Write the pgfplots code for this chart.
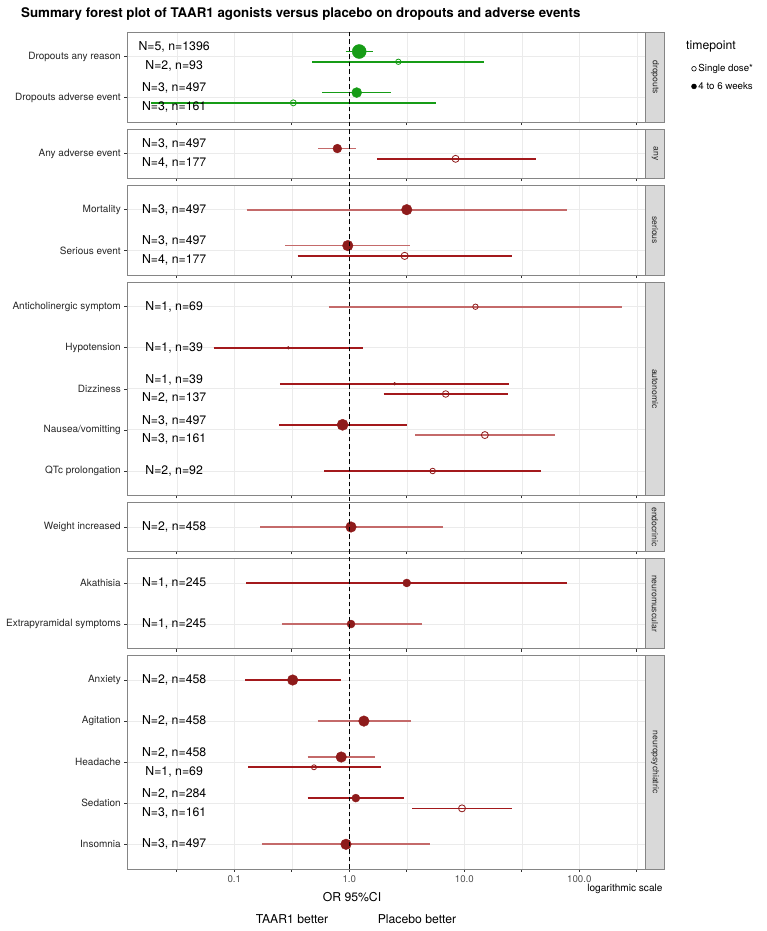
\documentclass[border=0pt]{standalone}
\usepackage{fontspec}
\setmainfont{TeX Gyre Heros}
\usepackage{pgfplots}
\usepackage{pgfplotstable}
\pgfplotsset{compat=1.18}

\definecolor{ptgreen}{HTML}{169C16}
\definecolor{ptred}{HTML}{8E1B1B}
\definecolor{cilight}{HTML}{C46A6A}
\definecolor{cidark}{HTML}{A3191C}
\definecolor{gridc}{HTML}{EBEBEB}
\definecolor{stripc}{HTML}{D9D9D9}
\definecolor{framec}{HTML}{858585}

% point estimates: y = row position, x = OR, r = point radius,
% f = 1 filled (4 to 6 weeks) / 0 open (single dose)
\pgfplotstableread{
y x r f
0.875 1.22 7.0 1
1.125 2.67 2.7 0
1.875 1.16 5.0 1
2.125 0.326 3.0 0
}\tabdrop
\pgfplotstableread{
y x r f
0.875 0.787 4.4 1
1.125 8.4 3.5 0
}\tabany
\pgfplotstableread{
y x r f
1 3.16 5.3 1
1.875 0.97 5.3 1
2.125 3.03 3.6 0
}\tabser
\pgfplotstableread{
y x r f
1 12.5 2.7 0
2 0.295 1.4 1
2.875 2.48 1.4 1
3.125 6.89 3.3 0
3.875 0.875 5.6 1
4.125 15.1 3.5 0
5 5.31 2.8 0
}\tabaut
\pgfplotstableread{
y x r f
1 1.035 5.3 1
}\tabend
\pgfplotstableread{
y x r f
1 3.16 4.0 1
2 1.035 4.0 1
}\tabneu
\pgfplotstableread{
y x r f
1 0.322 5.3 1
2 1.34 5.3 1
2.875 0.851 5.3 1
3.125 0.493 2.5 0
3.875 1.14 4.0 1
4.125 9.55 3.5 0
5 0.936 5.3 1
}\tabpsy

\pgfplotsset{
  every axis/.append style={
    scale only axis, width=518pt, xmin=0.01174, xmax=375,
    axis line style={framec, line width=0.7pt},
    xtick={0.1,1,10,100},
    minor xtick={0.0316,0.316,3.16,31.6,316},
    xmajorgrids, xminorgrids, ymajorgrids,
    major grid style={gridc, line width=0.9pt},
    minor grid style={gridc, line width=0.45pt},
    major tick length=3pt,
    tick style={black!80, line width=0.6pt},
    yticklabel style={font=\fontsize{10}{11}\selectfont, text=black!85},
  },
  ciL/.style={forget plot, no markers, cilight, line width=1.7pt},
  ciD/.style={forget plot, no markers, cidark, line width=1.7pt},
  ciG/.style={forget plot, no markers, ptgreen, line width=1.7pt},
  ptFill/.style={forget plot, scatter, only marks, mark=*, point meta=\thisrow{r},
    scatter/use mapped color={draw=#1, fill=#1},
    visualization depends on={\thisrow{r}\as\rr},
    scatter/@pre marker code/.append style={/tikz/mark size=\rr},
    restrict expr to domain={\thisrow{f}}{1:1}},
  ptOpen/.style={forget plot, scatter, only marks, mark=o, line width=0.8pt, point meta=\thisrow{r},
    scatter/use mapped color={draw=#1, fill=#1},
    visualization depends on={\thisrow{r}\as\rr},
    scatter/@pre marker code/.append style={/tikz/mark size=\rr},
    restrict expr to domain={\thisrow{f}}{0:0}},
  nLabel/.style={forget plot, only marks, mark=none, nodes near coords,
    point meta=explicit symbolic,
    every node near coord/.append style={anchor=center, font=\fontsize{12.3}{14}\selectfont, text=black}},
}

\newcommand\points[2]{%
  \addplot[ptFill=#2] table[x=x, y=y] {#1};
  \addplot[ptOpen=#2] table[x=x, y=y] {#1};
}

\newcommand\strip[2]{%
  \begin{scope}
    \draw[fill=stripc, draw=framec, line width=0.7pt] (#1.south east) rectangle ([xshift=19.4pt]#1.north east);
    \clip (#1.south east) rectangle ([xshift=19.4pt]#1.north east);
    \node[rotate=-90, font=\fontsize{8.6}{10}\selectfont, text=black!85] at ([xshift=9.7pt]#1.east) {#2};
  \end{scope}}

\begin{document}
\begin{tikzpicture}
\path[use as bounding box] (0pt,0pt) rectangle (766pt,-931pt);

\node[anchor=west, inner sep=0pt, font=\fontsize{13.3}{15}\selectfont\bfseries] at (21pt,-14pt)
  {Summary forest plot of TAAR1 agonists versus placebo on dropouts and adverse events};

% dropouts
\begin{semilogxaxis}[name=p1, at={(127.3pt,-32pt)}, anchor=north west, height=90.35pt,
  y dir=reverse, xtick pos=left, ytick pos=left, tick align=outside,
  xmajorticks=false, xminorticks=false, xticklabels={},
  ymin=0.4, ymax=2.6, ytick={1,2}, yticklabels={Dropouts any reason, Dropouts adverse event},
  legend style={draw=none, fill=none, at={(1.083,0.496)}, anchor=west,
    font=\fontsize{9.7}{11}\selectfont, row sep=5pt, cells={anchor=west},
    every odd column/.append style={column sep=7pt}}]
\addplot[ciG] coordinates {(0.93,0.875) (1.60,0.875)};
\addplot[ciG] coordinates {(0.477,1.125) (14.7,1.125)};
\addplot[ciG] coordinates {(0.58,1.875) (2.29,1.875)};
\addplot[ciG] coordinates {(0.0189,2.125) (5.71,2.125)};
\points{\tabdrop}{ptgreen}
\addplot[nLabel] coordinates {(0.03,0.773) [N=5, n=1396] (0.03,1.227) [N=2, n=93]
  (0.03,1.773) [N=3, n=497] (0.03,2.227) [N=3, n=161]};
\addlegendimage{only marks, mark=o, mark size=2.3pt, line width=0.6pt, black}
\addlegendentry{Single dose*}
\addlegendimage{only marks, mark=*, mark size=2.5pt, black}
\addlegendentry{4 to 6 weeks}
\end{semilogxaxis}
\strip{p1}{dropouts}

% any
\begin{semilogxaxis}[name=p2, at={(127.3pt,-129.05pt)}, anchor=north west, height=49.28pt,
  y dir=reverse, xtick pos=left, ytick pos=left, tick align=outside,
  xmajorticks=false, xminorticks=false, xticklabels={},
  ymin=0.4, ymax=1.6, ytick={1}, yticklabels={Any adverse event}]
\addplot[ciL] coordinates {(0.537,0.875) (1.14,0.875)};
\addplot[ciD] coordinates {(1.74,1.125) (41.8,1.125)};
\points{\tabany}{ptred}
\addplot[nLabel] coordinates {(0.03,0.773) [N=3, n=497] (0.03,1.227) [N=4, n=177]};
\end{semilogxaxis}
\strip{p2}{any}

% serious
\begin{semilogxaxis}[name=p3, at={(127.3pt,-185.03pt)}, anchor=north west, height=90.35pt,
  y dir=reverse, xtick pos=left, ytick pos=left, tick align=outside,
  xmajorticks=false, xminorticks=false, xticklabels={},
  ymin=0.4, ymax=2.6, ytick={1,2}, yticklabels={Mortality, Serious event}]
\addplot[ciL] coordinates {(0.128,1) (77.7,1)};
\addplot[ciL] coordinates {(0.278,1.875) (3.37,1.875)};
\addplot[ciD] coordinates {(0.356,2.125) (25.8,2.125)};
\points{\tabser}{ptred}
\addplot[nLabel] coordinates {(0.03,1) [N=3, n=497] (0.03,1.773) [N=3, n=497] (0.03,2.227) [N=4, n=177]};
\end{semilogxaxis}
\strip{p3}{serious}

% autonomic
\begin{semilogxaxis}[name=p4, at={(127.3pt,-282.08pt)}, anchor=north west, height=213.56pt,
  y dir=reverse, xtick pos=left, ytick pos=left, tick align=outside,
  xmajorticks=false, xminorticks=false, xticklabels={},
  ymin=0.4, ymax=5.6, ytick={1,2,3,4,5},
  yticklabels={Anticholinergic symptom, Hypotension, Dizziness, Nausea/vomitting, QTc prolongation}]
\addplot[ciL] coordinates {(0.666,1) (235,1)};
\addplot[ciD] coordinates {(0.0662,2) (1.315,2)};
\addplot[ciD] coordinates {(0.249,2.875) (24.6,2.875)};
\addplot[ciD] coordinates {(1.99,3.125) (24.0,3.125)};
\addplot[ciD] coordinates {(0.246,3.875) (3.16,3.875)};
\addplot[ciL] coordinates {(3.73,4.125) (61.9,4.125)};
\addplot[ciD] coordinates {(0.606,5) (46.8,5)};
\points{\tabaut}{ptred}
\addplot[nLabel] coordinates {(0.03,1) [N=1, n=69] (0.03,2) [N=1, n=39] (0.03,2.773) [N=1, n=39]
  (0.03,3.227) [N=2, n=137] (0.03,3.773) [N=3, n=497] (0.03,4.227) [N=3, n=161] (0.03,5) [N=2, n=92]};
\end{semilogxaxis}
\strip{p4}{autonomic}

% endocrinic
\begin{semilogxaxis}[name=p5, at={(127.3pt,-502.34pt)}, anchor=north west, height=49.28pt,
  y dir=reverse, xtick pos=left, ytick pos=left, tick align=outside,
  xmajorticks=false, xminorticks=false, xticklabels={},
  ymin=0.4, ymax=1.6, ytick={1}, yticklabels={Weight increased}]
\addplot[ciL] coordinates {(0.168,1) (6.49,1)};
\points{\tabend}{ptred}
\addplot[nLabel] coordinates {(0.03,1) [N=2, n=458]};
\end{semilogxaxis}
\strip{p5}{endocrinic}

% neuromuscular
\begin{semilogxaxis}[name=p6, at={(127.3pt,-558.32pt)}, anchor=north west, height=90.35pt,
  y dir=reverse, xtick pos=left, ytick pos=left, tick align=outside,
  xmajorticks=false, xminorticks=false, xticklabels={},
  ymin=0.4, ymax=2.6, ytick={1,2}, yticklabels={Akathisia, Extrapyramidal symptoms}]
\addplot[ciD] coordinates {(0.127,1) (77.7,1)};
\addplot[ciL] coordinates {(0.258,2) (4.29,2)};
\points{\tabneu}{ptred}
\addplot[nLabel] coordinates {(0.03,1) [N=1, n=245] (0.03,2) [N=1, n=245]};
\end{semilogxaxis}
\strip{p6}{neuromuscular}

% neuropsychiatric
\begin{semilogxaxis}[name=p7, at={(127.3pt,-655.37pt)}, anchor=north west, height=213.56pt,
  y dir=reverse, xtick pos=left, ytick pos=left, tick align=outside,
  xminorticks=false, xticklabels={0.1,1.0,10.0,100.0},
  xticklabel style={font=\fontsize{9.7}{11}\selectfont, text=black!70},
  ymin=0.4, ymax=5.6, ytick={1,2,3,4,5},
  yticklabels={Anxiety, Agitation, Headache, Sedation, Insomnia}]
\addplot[ciD] coordinates {(0.125,1) (0.841,1)};
\addplot[ciL] coordinates {(0.531,2) (3.42,2)};
\addplot[ciL] coordinates {(0.435,2.875) (1.69,2.875)};
\addplot[ciD] coordinates {(0.132,3.125) (1.87,3.125)};
\addplot[ciD] coordinates {(0.435,3.875) (2.99,3.875)};
\addplot[ciD] coordinates {(3.51,4.125) (26.0,4.125)};
\addplot[ciL] coordinates {(0.173,5) (5.06,5)};
\points{\tabpsy}{ptred}
\addplot[nLabel] coordinates {(0.03,1) [N=2, n=458] (0.03,2) [N=2, n=458] (0.03,2.773) [N=2, n=458]
  (0.03,3.227) [N=1, n=69] (0.03,3.773) [N=2, n=284] (0.03,4.227) [N=3, n=161] (0.03,5) [N=3, n=497]};
\coordinate (vbot) at (axis cs:1,5.6);
\end{semilogxaxis}
\strip{p7}{neuropsychiatric}

\draw[black, line width=0.9pt, dash pattern=on 4.5pt off 3pt] (vbot) -- (vbot |- p1.north);

\node[anchor=west, font=\fontsize{12.2}{14}\selectfont] at (682.7pt,-46.7pt) {timepoint};
\node[font=\fontsize{12.2}{14}\selectfont] at (352pt,-897.3pt) {OR 95\%CI};
\node[anchor=east, font=\fontsize{10.1}{12}\selectfont] at (666pt,-889.3pt) {logarithmic scale};
\node[font=\fontsize{12.2}{14}\selectfont] at (292pt,-918.7pt) {TAAR1 better};
\node[font=\fontsize{12.2}{14}\selectfont] at (417pt,-918.7pt) {Placebo better};
\end{tikzpicture}
\end{document}
